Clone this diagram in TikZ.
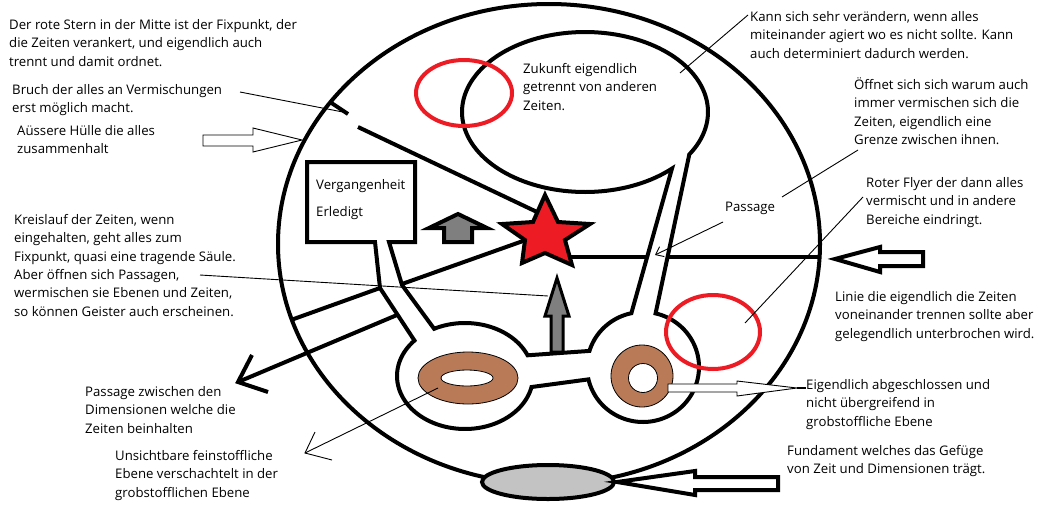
\documentclass[tikz,border=0pt]{standalone}
\usepackage{fontspec}
\setmainfont{Open Sans}
\usetikzlibrary{arrows.meta}
\definecolor{starred}{RGB}{237,28,36}
\definecolor{ringbrown}{RGB}{185,122,87}
\definecolor{arrowgray}{RGB}{127,127,127}
\definecolor{footgray}{RGB}{195,195,195}
\newcommand\notefont{\fontsize{13.2}{18.3}\selectfont}
\begin{document}
\begin{tikzpicture}[x=1pt,y=-1pt,
  wall/.style={line width=4pt},
  fine/.style={line width=0.9pt},
  note/.style={font=\notefont, align=left, anchor=north west, inner sep=0pt},
  redring/.style={draw=starred, line width=4pt},
  ring/.style={fill=ringbrown, draw=black, line width=0.8pt},
  hole/.style={fill=white, draw=black, line width=0.8pt},
  grayarrow/.style={fill=arrowgray, draw=black, line width=4pt},
  hollowarrow/.style={fill=white, draw=black, line width=4pt},
  thinhollow/.style={fill=white, draw=black, line width=0.9pt},
  barb/.style={-{Straight Barb[length=7pt,width=11pt]}},
]
\fill[white] (0,0) rectangle (1047,504);
\useasboundingbox (0,0) rectangle (1047,504);

% outer hull
\draw[wall] (549,244) ellipse [x radius=271, y radius=240];

% circuit of the times (one closed wall)
\draw[wall]
  plot[domain=243:337, samples=40] ({465+68*cos(\x)},{376+53*sin(\x)})
  -- plot[domain=197:258, samples=30] ({643+56*cos(\x)},{367+55*sin(\x)})
  -- plot[domain=45:392, samples=140] ({585+123*cos(\x)},{112+80*sin(\x)})
  -- plot[domain=283:527, samples=80] ({643+56*cos(\x)},{367+55*sin(\x)})
  -- plot[domain=12:222, samples=70] ({465+68*cos(\x)},{376+53*sin(\x)})
  -- (380,288) -- (375,242) -- (307,242) -- (307,162) -- (415,162) -- (415,242)
  -- (389,242) -- (402,285) -- cycle;

% break and the line to the star
\draw[wall] (330,102) -- (348,114);
\draw[wall] (358,127) -- (537,212);

% passage band
\draw[wall] (523,241) -- (402,284);
\draw[wall] (380,288) -- (291,320);
\coordinate (bandTip) at (238,382);
\draw[wall] (397,315) -- (bandTip);
\draw[wall] (252,355) -- (bandTip) -- (268,392);

% separating line
\draw[wall] (570,257) -- (648,257);
\draw[wall] (668,257) -- (820,257);

% star
\node[inner sep=0pt] (star) at (546,233) {};
\draw[fill=starred, line width=4pt, line join=miter]
  (545,195) -- (558,222) -- (590,224) -- (565,240) -- (572,265) -- (545,253)
  -- (522,263) -- (525,240) -- (502,224) -- (533,222) -- cycle;

% gray block arrows
\draw[grayarrow] (458,214) -- (487,228) -- (472,228) -- (472,242) -- (444,242)
  -- (444,228) -- (429,228) -- cycle;
\draw[fill=arrowgray, draw=black, line width=3pt] (557,278) -- (569,316) -- (563,316)
  -- (563,352) -- (551,352) -- (551,316) -- (545,316) -- cycle;

% rings
\draw[ring] (468,378) ellipse [x radius=50, y radius=26];
\draw[hole] (467,378) ellipse [x radius=26, y radius=8];
\draw[ring] (642,376) circle [radius=31];
\draw[hole] (643,378) circle [radius=14.5];

% foundation
\draw[wall, fill=footgray] (548,482) ellipse [x radius=66, y radius=17];

% red flyers
\draw[redring] (464,93) ellipse [x radius=48, y radius=33];
\draw[redring] (713,332) ellipse [x radius=47, y radius=37];

% hollow block arrows
\draw[hollowarrow] (617,482) -- (695,471) -- (695,477) -- (778,477) -- (778,490)
  -- (695,490) -- (695,495) -- cycle;
\draw[hollowarrow] (835,259) -- (880,247) -- (880,252) -- (923,252) -- (923,266)
  -- (880,266) -- (880,272) -- cycle;
\draw[thinhollow] (302,140) -- (253,128) -- (253,135) -- (203,135) -- (203,146)
  -- (253,146) -- (253,152) -- cycle;
\draw[thinhollow] (797,388) -- (737,381) -- (737,384) -- (668,384) -- (668,392)
  -- (737,392) -- (737,396) -- cycle;
\draw[line width=2pt] (797,388) -- (806,388);

% texts
\node[note] (tStern) at (9,16.5) {\strut Der rote Stern in der Mitte ist der Fixpunkt, der\\die Zeiten verankert, und eigendlich auch\\trennt und damit ordnet.};
\node[note] (tBruch) at (12,81.5) {\strut Bruch der alles an Vermischungen\\erst möglich macht.};
\node[note] (tHuelle) at (17,122.5) {\strut Aüssere Hülle die alles\\zusammenhalt};
\node[note] (tKreis) at (14,211.5) {\strut Kreislauf der Zeiten, wenn\\eingehalten, geht alles zum\\Fixpunkt, quasi eine tragende Säule.\\Aber öffnen sich Passagen,\\wermischen sie Ebenen und Zeiten,\\so können Geister auch erscheinen.};
\node[note] (tPassDim) at (85,383.5) {\strut Passage zwischen den\\Dimensionen welche die\\Zeiten beinhalten};
\node[note] (tUnsicht) at (115,447.5) {\strut Unsichtbare feinstoffliche\\Ebene verschachtelt in der\\grobstofflichen Ebene};
\node[note] (tVerg) at (316,176.5) {\strut Vergangenheit\\[8.7pt]Erledigt};
\node[note] (tZukunft) at (523,60.5) {\strut Zukunft eigendlich\\getrennt von anderen\\Zeiten.};
\node[note] (tKann) at (750,8.5) {\strut Kann sich sehr verändern, wenn alles\\miteinander agiert wo es nicht sollte. Kann\\auch determiniert dadurch werden.};
\node[note] (tOeffnet) at (854,76.5) {\strut Öffnet sich sich warum auch\\immer vermischen sich die\\Zeiten, eigendlich eine\\Grenze zwischen ihnen.};
\node[note] (tPassage) at (725,198.5) {\strut Passage};
\node[note] (tFlyer) at (866,174.5) {\strut Roter Flyer der dann alles\\vermischt und in andere\\Bereiche eindringt.};
\node[note] (tLinie) at (835,288.5) {\strut Linie die eigendlich die Zeiten\\voneinander trennen sollte aber\\gelegendlich unterbrochen wird.};
\node[note] (tEigend) at (806,376.5) {\strut Eigendlich abgeschlossen und\\nicht übergreifend in\\grobstoffliche Ebene};
\node[note] (tFund) at (787,442.5) {\strut Fundament welches das Gefüge\\von Zeit und Dimensionen trägt.};

% thin annotation lines
\coordinate (bruchA) at (240,92);   \coordinate (bruchB) at (348,113);
\coordinate (kreisA) at (200,275);  \coordinate (kreisB) at (548,296);
\coordinate (kannA) at (748,15);    \coordinate (kannB) at (680,73);
\coordinate (oeffA) at (858,150);   \coordinate (oeffB) at (782,197);
\coordinate (flyA) at (863,197);    \coordinate (flyB) at (745,323);
\coordinate (passA) at (723,222);   \coordinate (passB) at (655,255);
\coordinate (unsA) at (438,388);    \coordinate (unsB) at (305,453);
\draw[fine] (bruchA) -- (bruchB);
\draw[fine] (kreisA) -- (kreisB);
\draw[fine] (kannA) -- (kannB);
\draw[fine] (oeffA) -- (oeffB);
\draw[fine] (flyA) -- (flyB);
\draw[fine, barb] (passA) -- (passB);
\draw[fine] (unsA) -- (unsB);
\draw[fine] (315,432) -- (unsB) -- (332,460);
\end{tikzpicture}
\end{document}
